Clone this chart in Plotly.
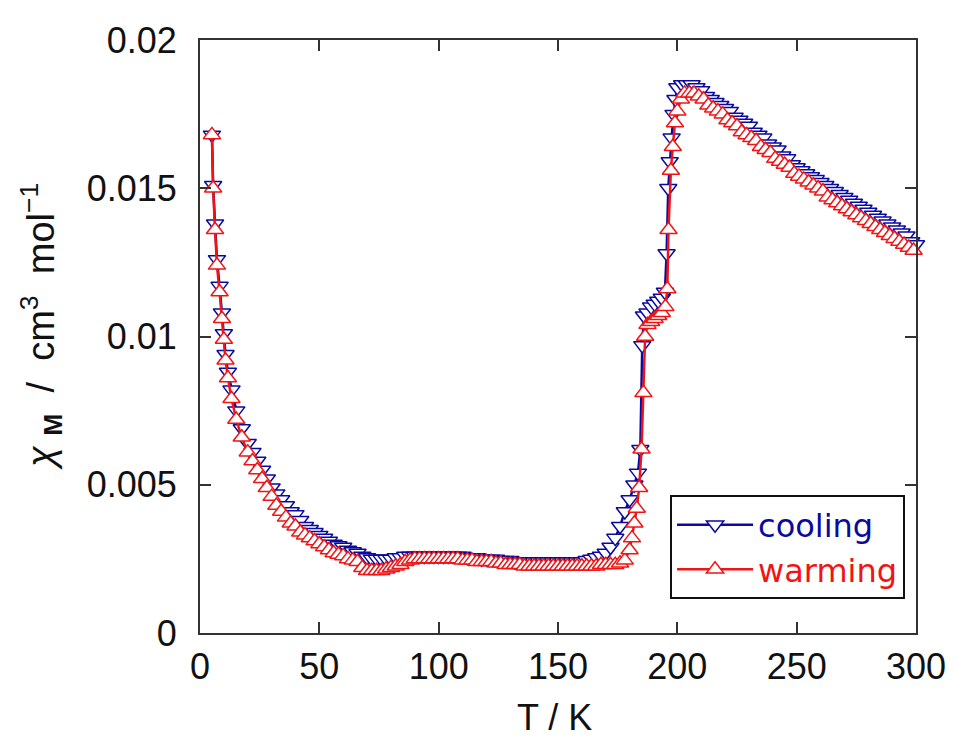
import plotly.graph_objects as go

# Cooling run (blue, down triangles): (T / K, chi_M / cm3 mol-1)
cooling = [
    (5, 0.0168), (5.5, 0.0151), (6.3, 0.0138), (7.1, 0.0126), (8.2, 0.0117),
    (9.2, 0.0108), (10, 0.0101), (10.7, 0.0094), (11.7, 0.0088), (13.2, 0.0082),
    (15.2, 0.0075), (17.5, 0.0069), (20, 0.0064), (22, 0.0061), (24, 0.0058),
    (26, 0.0055), (28, 0.0052), (30, 0.0049), (32, 0.0047), (34, 0.0045),
    (36, 0.0043), (38, 0.0041), (40, 0.0040), (42, 0.0038), (44, 0.0036),
    (46, 0.0035), (48, 0.0034), (50, 0.0033), (52, 0.0032), (54, 0.0031),
    (56, 0.0030), (58, 0.00295), (60, 0.0029), (62, 0.0028), (64, 0.00275),
    (66, 0.0027), (68, 0.0026), (70, 0.00255), (72, 0.0025), (74, 0.0025),
    (76, 0.0025), (78, 0.0025), (80, 0.0025), (82, 0.00255), (84, 0.00255),
    (86, 0.0026), (88, 0.0026), (90, 0.0026), (92, 0.0026), (94, 0.0026),
    (96, 0.0026), (98, 0.0026), (100, 0.0026), (102, 0.0026), (104, 0.0026),
    (106, 0.0026), (108, 0.0026), (110, 0.0026), (112, 0.00255), (114, 0.00255),
    (116, 0.00255), (118, 0.0025), (120, 0.0025), (122, 0.0025), (124, 0.0025),
    (126, 0.00245), (128, 0.00245), (130, 0.00245), (132, 0.0024), (134, 0.0024),
    (136, 0.0024), (138, 0.0024), (140, 0.0024), (142, 0.0024), (144, 0.0024),
    (146, 0.0024), (148, 0.0024), (150, 0.0024), (152, 0.0024), (154, 0.0024),
    (156, 0.0024), (158, 0.0024), (160, 0.0024), (162, 0.00245), (164, 0.0025),
    (166, 0.00255), (168, 0.0026), (170, 0.0027), (172, 0.0029), (174, 0.0032),
    (176, 0.0036), (178, 0.0041), (180, 0.0045), (182, 0.0050), (183.5, 0.0054),
    (184.5, 0.0062), (185.3, 0.0097), (186, 0.0107), (187.5, 0.0108), (189, 0.0110),
    (190.5, 0.0111), (192, 0.0112), (193.5, 0.0113), (194.8, 0.0115), (195.5, 0.0128),
    (196.2, 0.0150), (196.8, 0.0159), (197.6, 0.0167), (198.4, 0.0175), (199.2, 0.0180),
    (200, 0.0184), (202, 0.0185), (204, 0.0185), (206, 0.0185), (208, 0.0184),
    (210, 0.0183), (212, 0.0181), (214, 0.0180), (216, 0.0179), (218, 0.0178),
    (220, 0.0177), (222, 0.0176), (224, 0.0174), (226, 0.0173), (228, 0.0172),
    (230, 0.0171), (232, 0.0169), (234, 0.0168), (236, 0.0167), (238, 0.0165),
    (240, 0.0164), (242, 0.0163), (244, 0.0161), (246, 0.0160), (248, 0.0158),
    (250, 0.0157), (252, 0.0156), (254, 0.0155), (256, 0.0154), (258, 0.0153),
    (260, 0.0152), (262, 0.0151), (264, 0.0150), (266, 0.0149), (268, 0.0148),
    (270, 0.0147), (272, 0.0146), (274, 0.0145), (276, 0.0144), (278, 0.0143),
    (280, 0.0142), (282, 0.0141), (284, 0.0140), (286, 0.0139), (288, 0.0138),
    (290, 0.0137), (292, 0.0136), (294, 0.0135), (296, 0.0134), (298, 0.0132),
    (300, 0.0131),
]

# Warming run (red, up triangles): (T / K, chi_M / cm3 mol-1)
warming = [
    (5, 0.0168), (5.5, 0.0150), (6.3, 0.0136), (7.1, 0.0124), (8.2, 0.0115),
    (9.2, 0.0106), (10, 0.0099), (10.7, 0.0092), (11.7, 0.0086), (13.2, 0.0079),
    (15.2, 0.0072), (17.5, 0.0066), (20, 0.0061), (22, 0.0058), (24, 0.0055),
    (26, 0.0052), (28, 0.0049), (30, 0.0046), (32, 0.0043), (34, 0.0041),
    (36, 0.0039), (38, 0.0037), (40, 0.0036), (42, 0.0034), (44, 0.0033),
    (46, 0.0032), (48, 0.0031), (50, 0.0030), (52, 0.0029), (54, 0.0028),
    (56, 0.0027), (58, 0.00265), (60, 0.0026), (62, 0.0025), (64, 0.00245),
    (66, 0.0024), (68, 0.0022), (70, 0.0021), (72, 0.0021), (74, 0.0021),
    (76, 0.0021), (78, 0.00215), (80, 0.0022), (82, 0.00225), (84, 0.0023),
    (86, 0.0024), (88, 0.00245), (90, 0.0025), (92, 0.0025), (94, 0.0025),
    (96, 0.0025), (98, 0.0025), (100, 0.0025), (102, 0.0025), (104, 0.0025),
    (106, 0.0025), (108, 0.0025), (110, 0.00245), (112, 0.00245), (114, 0.00245),
    (116, 0.0024), (118, 0.0024), (120, 0.0024), (122, 0.0024), (124, 0.00235),
    (126, 0.00235), (128, 0.0023), (130, 0.0023), (132, 0.0023), (134, 0.0023),
    (136, 0.00225), (138, 0.00225), (140, 0.00225), (142, 0.00225), (144, 0.00225),
    (146, 0.00225), (148, 0.00225), (150, 0.00225), (152, 0.00225), (154, 0.00225),
    (156, 0.00225), (158, 0.00225), (160, 0.00225), (162, 0.00225), (164, 0.00225),
    (166, 0.00225), (168, 0.0023), (170, 0.0023), (172, 0.0023), (174, 0.0023),
    (176, 0.00235), (178, 0.00245), (180, 0.0028), (181, 0.0032), (182, 0.0037),
    (183, 0.0042), (184, 0.0049), (185, 0.0062), (185.8, 0.0081), (186.5, 0.0100),
    (187.5, 0.0104), (189, 0.0105), (190.5, 0.0106), (192, 0.0107), (193.5, 0.0108),
    (195, 0.0110), (195.8, 0.0116), (196.3, 0.0136), (197.3, 0.0156), (198.1, 0.0164),
    (199, 0.0172), (200, 0.0176), (201.5, 0.0180), (203, 0.0182), (205, 0.0182),
    (207, 0.0182), (209, 0.0181), (211, 0.0180), (213, 0.0178), (215, 0.0177),
    (217, 0.0176), (219, 0.0175), (221, 0.0173), (223, 0.0172), (225, 0.0171),
    (227, 0.0169), (229, 0.0168), (231, 0.0167), (233, 0.0166), (235, 0.0164),
    (237, 0.0163), (239, 0.0162), (241, 0.0160), (243, 0.0159), (245, 0.0158),
    (247, 0.0157), (249, 0.0155), (251, 0.0154), (253, 0.0153), (255, 0.0152),
    (257, 0.0151), (259, 0.0150), (261, 0.0149), (263, 0.0147), (265, 0.0146),
    (267, 0.0145), (269, 0.0144), (271, 0.0143), (273, 0.0142), (275, 0.0141),
    (277, 0.0140), (279, 0.0139), (281, 0.0138), (283, 0.0137), (285, 0.0136),
    (287, 0.0135), (289, 0.0134), (291, 0.0133), (293, 0.0132), (295, 0.0131),
    (297, 0.0130), (299, 0.0129), (300.3, 0.0129),
]

T_cool = [p[0] for p in cooling]
chi_cool = [p[1] for p in cooling]
T_warm = [p[0] for p in warming]
chi_warm = [p[1] for p in warming]

x_ticks = [0, 50, 100, 150, 200, 250, 300]
y_ticks = [0, 0.005, 0.01, 0.015, 0.02]
y_tick_text = ["0", "0.005", "0.01", "0.015", "0.02"]

BLUE = "#0A0AA0"
RED = "#F01414"
FONT = "Liberation Sans, Arial, sans-serif"

fig = go.Figure()
fig.add_trace(go.Scatter(
    x=T_cool, y=chi_cool, mode="lines+markers",
    name=f"<span style='color:{BLUE}'>cooling</span>",
    line=dict(color=BLUE, width=2.5),
    marker=dict(symbol="triangle-down", size=15, color="white",
                line=dict(color=BLUE, width=1.5)),
    cliponaxis=False,
))
fig.add_trace(go.Scatter(
    x=T_warm, y=chi_warm, mode="lines+markers",
    name=f"<span style='color:{RED}'>warming</span>",
    line=dict(color=RED, width=2.5),
    marker=dict(symbol="triangle-up", size=15, color="white",
                line=dict(color=RED, width=1.5)),
    cliponaxis=False,
))

axis_common = dict(
    showline=True, mirror="ticks", linecolor="#333333", linewidth=2,
    ticks="inside", ticklen=11, tickwidth=2, tickcolor="#333333",
    showgrid=False, zeroline=False,
    tickfont=dict(family=FONT, size=36, color="#111111"),
)

# page body has an 8px margin: figure is sized/offset so the plot box lands at
# x 200..919, y 38..633 of the 958x738 window
fig.update_layout(
    width=950, height=730,
    margin=dict(l=192, r=31, t=30, b=105),
    paper_bgcolor="white", plot_bgcolor="white",
    xaxis=dict(range=[0, 300], tickvals=x_ticks, ticklabelstandoff=1, **axis_common),
    yaxis=dict(range=[0, 0.02], tickvals=y_ticks, ticktext=y_tick_text,
               ticklabelstandoff=14, **axis_common),
    showlegend=True,
    legend=dict(x=0.6565, y=0.232, xanchor="left", yanchor="top",
                bordercolor="#111111", borderwidth=2, bgcolor="white",
                font=dict(family="DejaVu Sans, sans-serif", size=32),
                itemwidth=76),
    annotations=[
        dict(text="<i>χ</i>&nbsp;<sub><b>M</b></sub>&nbsp;&nbsp;/&nbsp;&nbsp;cm<sup>3</sup>"
                  "&nbsp;&nbsp;mol<sup>−1</sup>",
             xref="paper", yref="paper", x=-0.222, y=0.516,
             xanchor="center", yanchor="middle", textangle=-90, showarrow=False,
             font=dict(family=FONT, size=38, color="#111111")),
        dict(text="T / K", xref="paper", yref="paper", x=0.495, y=-0.143,
             xanchor="center", yanchor="middle", showarrow=False,
             font=dict(family=FONT, size=36, color="#111111")),
    ],
)

fig.write_html("out.html")
